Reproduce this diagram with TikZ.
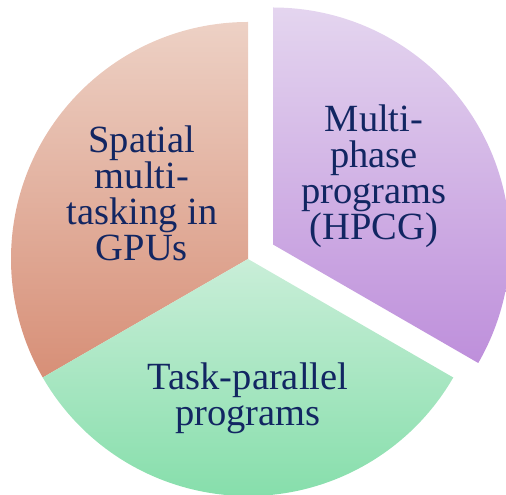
\documentclass[tikz,border=0pt]{standalone}
\usepackage{fontspec}
\setmainfont{Liberation Serif}
\definecolor{txt}{RGB}{18,38,98}
\definecolor{redtop}{RGB}{237,209,197}
\definecolor{redbot}{RGB}{215,143,119}
\definecolor{greentop}{RGB}{201,238,216}
\definecolor{greenbot}{RGB}{125,220,165}
\definecolor{purtop}{RGB}{228,213,239}
\definecolor{purbot}{RGB}{190,143,219}
\tikzset{
  lbl/.style={text=txt, align=center, font=\fontsize{38.5}{36}\selectfont, inner sep=0pt},
}
\begin{document}
\begin{tikzpicture}[x=1pt,y=1pt]
\useasboundingbox (0,0) rectangle (506,495);
\begin{scope}
\clip (0,0) rectangle (506,495);
% main centre
\coordinate (c) at (248,236);
\coordinate (p) at (273,250.5);
% red sector
\shade[top color=redtop, bottom color=redbot]
  (c) -- ++(90:237) arc[start angle=90, end angle=210, radius=237] -- cycle;
% green sector
\shade[top color=greentop, bottom color=greenbot]
  (c) -- ++(210:237) arc[start angle=210, end angle=330, radius=237] -- cycle;
% purple sector (exploded)
\shade[top color=purtop, bottom color=purbot]
  (p) -- ++(-30:237) arc[start angle=-30, end angle=90, radius=237] -- cycle;
\end{scope}
\node[lbl] (spatial) at (142,302) {Spatial\\multi-\\tasking in\\GPUs};
\node[lbl] (multi) at (374,319) {Multi-\\phase\\programs\\(HPCG)};
\node[lbl] (task) at (248,97) {Task-parallel\\programs};
\end{tikzpicture}
\end{document}
